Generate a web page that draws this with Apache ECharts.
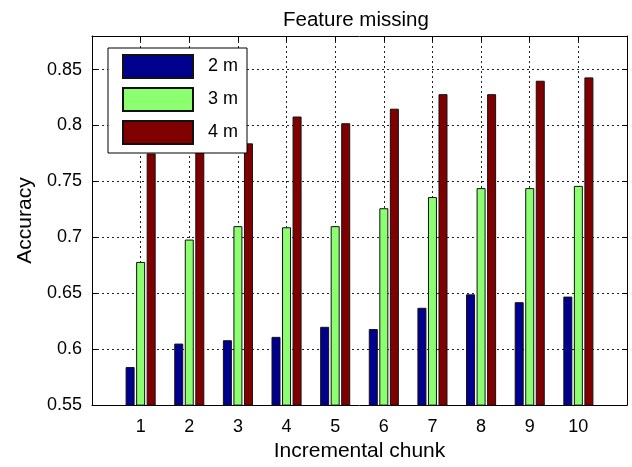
<!DOCTYPE html>
<html>
<head>
<meta charset="utf-8">
<script src="https://cdn.jsdelivr.net/npm/echarts@6/dist/echarts.min.js"></script>
<style>
  html, body { margin: 0; padding: 0; background: #fff; }
  #chart { width: 632px; height: 467px; }
</style>
</head>
<body>
<div id="chart"></div>
<script>
// Accuracy per incremental chunk for three feature-missing settings
var chunks = [1, 2, 3, 4, 5, 6, 7, 8, 9, 10];
var seriesNames = ['2 m', '3 m', '4 m'];
var acc2m = [0.584, 0.605, 0.608, 0.611, 0.620, 0.618, 0.637, 0.649, 0.642, 0.647];
var acc3m = [0.678, 0.698, 0.710, 0.709, 0.710, 0.726, 0.736, 0.744, 0.744, 0.746];
var acc4m = [0.775, 0.790, 0.784, 0.808, 0.802, 0.815, 0.828, 0.828, 0.840, 0.843];
var yTicks = [0.55, 0.6, 0.65, 0.7, 0.75, 0.8, 0.85];

var FONT = '"Liberation Sans", Arial, Helvetica, sans-serif';
var colors = ['#00008F', '#8CFF70', '#800000'];

function pairs(values) {
  return chunks.map(function (c, i) { return [c, values[i]]; });
}

function isYTick(v) {
  return yTicks.some(function (t) { return Math.abs(t - v) < 1e-6; });
}

var gridLine = { show: true, lineStyle: { color: '#222', width: 1, type: [2, 3] } };
var boxLine = { show: true, onZero: false, lineStyle: { color: '#000', width: 1 } };
var inTick = { show: true, inside: true, length: 5, lineStyle: { color: '#000', width: 1 } };

var chart = echarts.init(document.getElementById('chart'), null, { renderer: 'canvas' });

chart.setOption({
  animation: false,
  backgroundColor: '#fff',
  color: colors,
  title: {
    text: 'Feature missing',
    left: 278,
    top: 5,
    textStyle: { fontFamily: FONT, fontSize: 20.5, fontWeight: 'normal', color: '#000' }
  },
  legend: {
    orient: 'vertical',
    left: 108,
    top: 48,
    data: seriesNames,
    icon: 'rect',
    itemWidth: 70,
    itemHeight: 23,
    itemGap: 8,
    padding: [6, 9, 8, 14],
    backgroundColor: '#fff',
    borderColor: '#000',
    borderWidth: 1,
    z: 10,
    textStyle: { fontFamily: FONT, fontSize: 18, color: '#000', padding: [0, 0, 0, 10] }
  },
  grid: { left: 92, right: 5, top: 36, bottom: 59, containLabel: false },
  xAxis: [{
    type: 'value',
    min: 0,
    max: 11,
    interval: 1,
    position: 'bottom',
    name: 'Incremental chunk',
    nameLocation: 'middle',
    nameGap: 32,
    nameTextStyle: { fontFamily: FONT, fontSize: 21, color: '#000' },
    axisLine: boxLine,
    axisTick: inTick,
    splitLine: gridLine,
    axisLabel: {
      fontFamily: FONT, fontSize: 18, color: '#000', margin: 13,
      formatter: function (v) { return chunks.indexOf(v) >= 0 ? String(v) : ''; }
    }
  }, {
    type: 'value',
    min: 0,
    max: 11,
    interval: 1,
    position: 'top',
    axisLine: boxLine,
    axisTick: inTick,
    splitLine: { show: false },
    axisLabel: { show: false }
  }],
  yAxis: [{
    type: 'value',
    min: 0.55,
    max: 0.88,
    interval: 0.05,
    position: 'left',
    name: 'Accuracy',
    nameLocation: 'middle',
    nameGap: 55,
    nameTextStyle: { fontFamily: FONT, fontSize: 21, color: '#000' },
    axisLine: boxLine,
    axisTick: inTick,
    splitLine: gridLine,
    axisLabel: {
      fontFamily: FONT, fontSize: 18, color: '#000', margin: 10,
      showMaxLabel: false,
      formatter: function (v) { return isYTick(v) ? String(parseFloat(v.toFixed(2))) : ''; }
    }
  }, {
    type: 'value',
    min: 0.55,
    max: 0.88,
    interval: 0.05,
    position: 'right',
    axisLine: boxLine,
    axisTick: inTick,
    splitLine: { show: false },
    axisLabel: { show: false }
  }],
  series: [acc2m, acc3m, acc4m].map(function (vals, i) {
    return {
      name: seriesNames[i],
      type: 'bar',
      xAxisIndex: 0,
      yAxisIndex: 0,
      barWidth: 9,
      barGap: '17%',
      data: pairs(vals),
      itemStyle: { color: colors[i], borderColor: '#111', borderWidth: 1 }
    };
  })
});
</script>
</body>
</html>
